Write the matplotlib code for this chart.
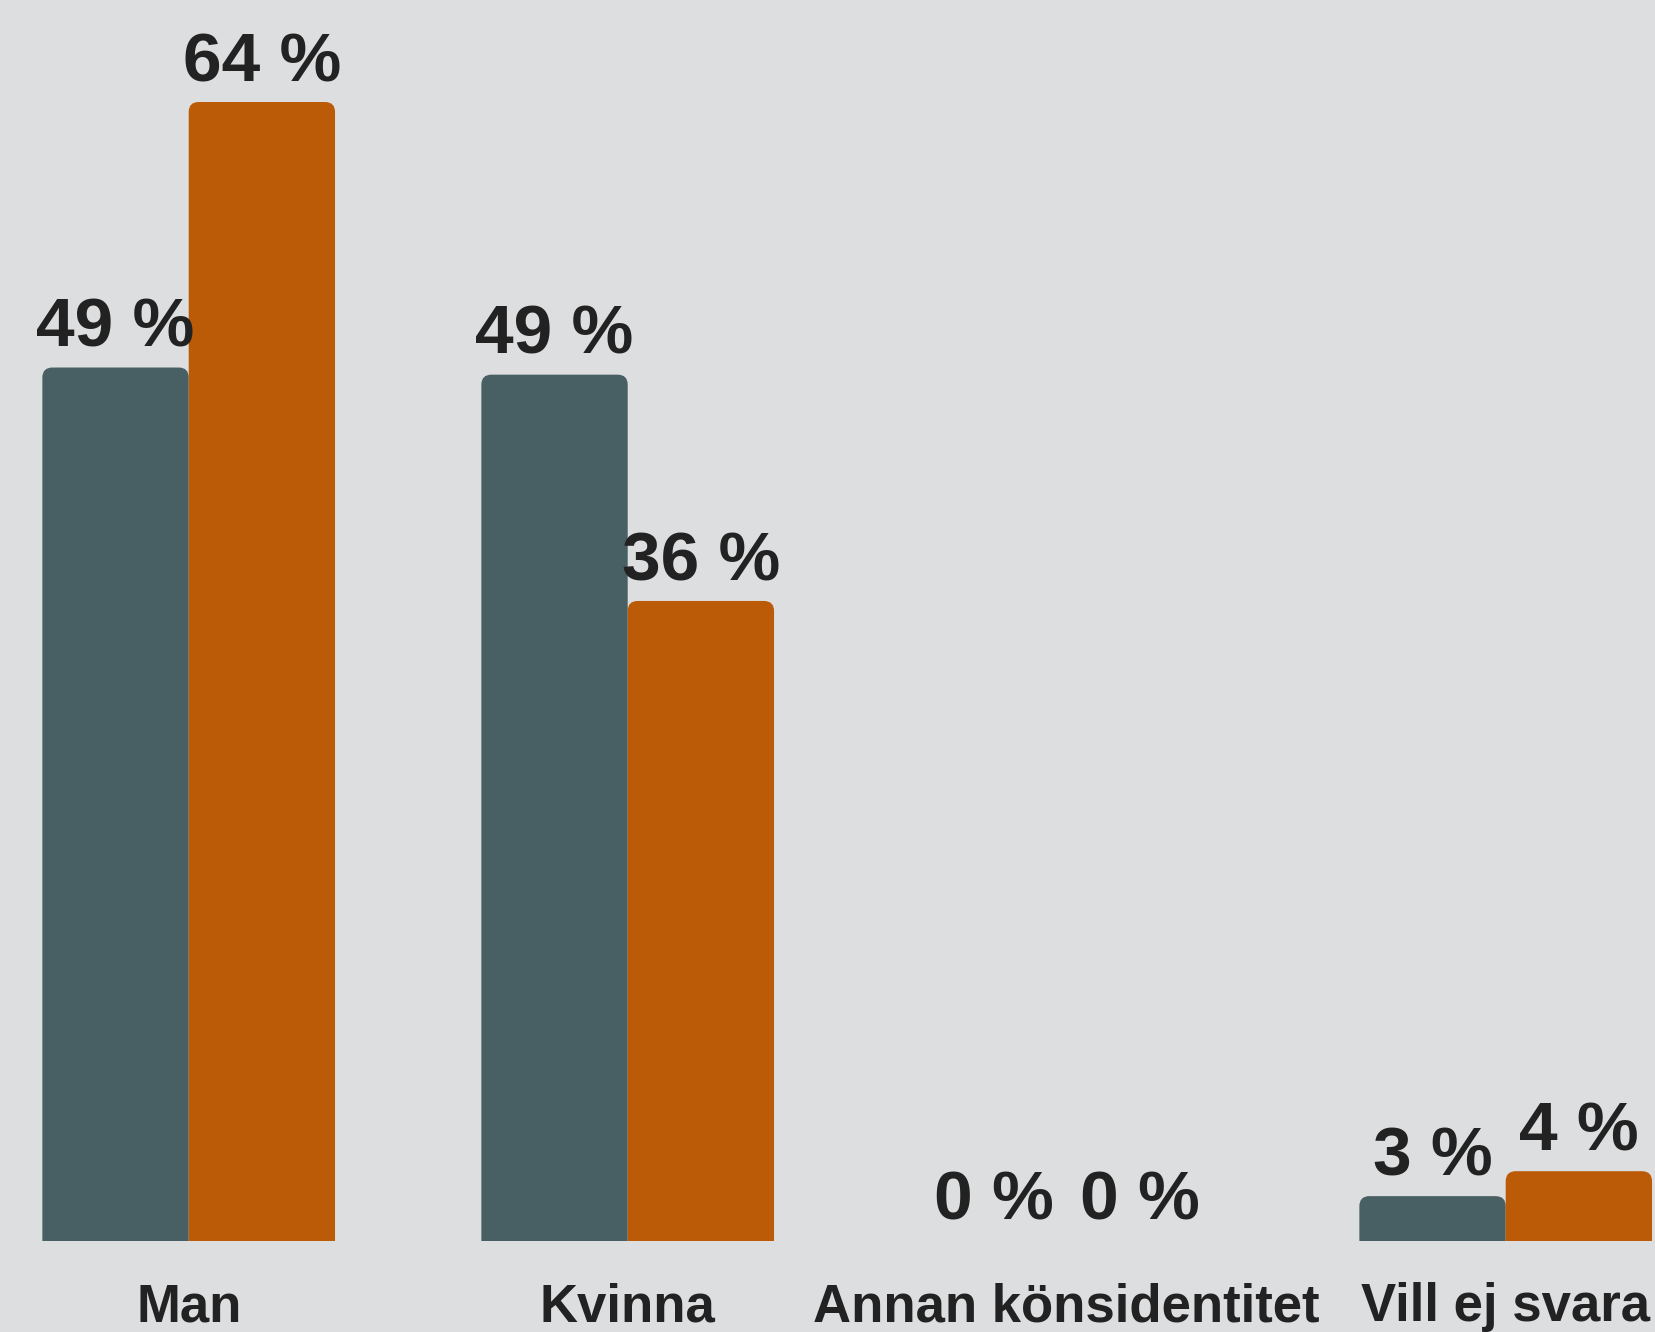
import math
import matplotlib
matplotlib.use('Agg')
import matplotlib.pyplot as plt
from matplotlib.patches import FancyBboxPatch

plt.rcParams['font.family'] = ['Liberation Sans', 'DejaVu Sans']

# ── Data ─────────────────────────────────────────────────────
categories = ['Man', 'Kvinna', 'Annan könsidentitet', 'Vill ej svara']
series_a   = [49.0, 48.6, 0.0, 2.5]     # dark bars
series_b   = [63.9, 35.9, 0.0, 3.9]     # orange bars

BG     = '#dddee0'
DARK   = '#486063'
ORANGE = '#bb5a07'
TEXT   = '#222222'

W, H, DPI = 1656, 1332, 100
fig = plt.figure(figsize=(W / DPI, H / DPI), dpi=DPI, facecolor=BG)
base_px = 1240.7
ax = fig.add_axes([0, (H - base_px) / H, 1, base_px / H])
ax.set_facecolor(BG)

px_per_unit_x = 439.0
px_per_unit_y = 17.82
ax.set_xlim(-188.7 / px_per_unit_x, (W - 188.7) / px_per_unit_x)
ax.set_ylim(0, base_px / px_per_unit_y)
ax.axis('off')

bw = 1 / 3
x = list(range(len(categories)))
radius_px = 10
aspect = (1 / px_per_unit_y) / (1 / px_per_unit_x)


def rounded_bars(offset, values, color):
    bars = ax.bar([i + offset for i in x], values, bw, color=color)
    for b in bars:
        b.set_visible(False)
        x0, w, h = b.get_x(), b.get_width(), b.get_height()
        if h > 0:
            # extend below the baseline so only the top corners stay rounded
            patch = FancyBboxPatch((x0, -3), w, h + 3,
                                   boxstyle=f'round,pad=0,rounding_size={radius_px / px_per_unit_x}',
                                   mutation_aspect=aspect,
                                   facecolor=color, edgecolor='none', clip_on=True)
            ax.add_patch(patch)
        lbl = f'{math.floor(h + 0.5)} %'
        ax.annotate(lbl, (x0 + w / 2, h), xytext=(0, 15), textcoords='offset points',
                    ha='center', va='baseline', fontsize=50, fontweight='bold',
                    color=TEXT, annotation_clip=False)


rounded_bars(-bw / 2, series_a, DARK)
rounded_bars(bw / 2, series_b, ORANGE)

for i, cat in zip(x, categories):
    ax.annotate(cat, (i, 0), xycoords=('data', 'axes fraction'),
                xytext=(0, -(1321 - base_px) * 0.72), textcoords='offset points',
                ha='center', va='baseline', fontsize=38, fontweight='bold',
                color=TEXT, annotation_clip=False)

fig.savefig('out.png', dpi=DPI, facecolor=BG)
